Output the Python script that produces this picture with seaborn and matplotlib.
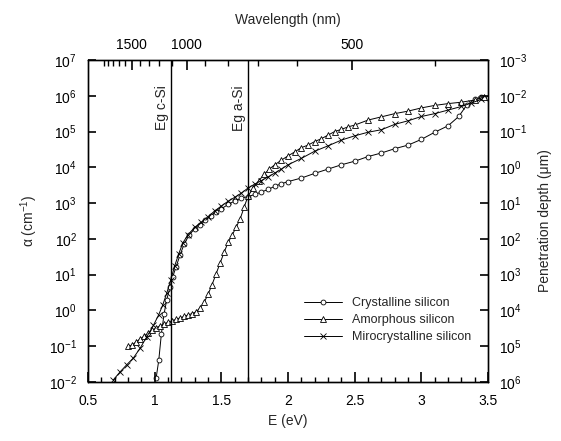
import numpy as np
import matplotlib
matplotlib.use("Agg")
import matplotlib.pyplot as plt
import matplotlib.ticker as mticker
import seaborn as sns

# photon energy (eV) and log10 of absorption coefficient (cm^-1)
c_si_E = [1.01, 1.03, 1.05, 1.07, 1.09, 1.115, 1.135, 1.16, 1.19, 1.22, 1.26, 1.30,
          1.34, 1.38, 1.42, 1.46, 1.50, 1.55, 1.60, 1.65, 1.70, 1.75, 1.80, 1.85,
          1.90, 1.95, 2.00, 2.10, 2.20, 2.30, 2.40, 2.50, 2.60, 2.70, 2.80, 2.90,
          3.00, 3.10, 3.20, 3.28, 3.34, 3.40, 3.45, 3.50]
c_si_log = [-1.9, -1.4, -0.65, -0.1, 0.3, 0.66, 0.94, 1.22, 1.55, 1.85, 2.12, 2.28,
            2.38, 2.52, 2.64, 2.75, 2.84, 2.96, 3.06, 3.14, 3.18, 3.24, 3.31, 3.38,
            3.47, 3.54, 3.60, 3.70, 3.83, 3.95, 4.07, 4.17, 4.30, 4.40, 4.52, 4.62,
            4.78, 4.98, 5.16, 5.42, 5.74, 5.90, 5.97, 5.95]

a_si_E = [0.80, 0.83, 0.86, 0.89, 0.92, 0.95, 0.98, 1.01, 1.04, 1.07, 1.10, 1.13,
          1.16, 1.19, 1.22, 1.25, 1.28, 1.31, 1.34, 1.37, 1.40, 1.43, 1.46, 1.49,
          1.52, 1.55, 1.58, 1.61, 1.64, 1.67, 1.70, 1.74, 1.78, 1.82, 1.86, 1.90,
          1.95, 2.00, 2.05, 2.10, 2.15, 2.20, 2.25, 2.30, 2.35, 2.40, 2.45, 2.50,
          2.60, 2.70, 2.80, 2.90, 3.00, 3.10, 3.20, 3.30, 3.40, 3.47]
a_si_log = [-1.0, -0.97, -0.88, -0.80, -0.72, -0.64, -0.56, -0.49, -0.43, -0.38, -0.33, -0.29,
            -0.25, -0.21, -0.17, -0.13, -0.09, -0.04, 0.07, 0.22, 0.45, 0.72, 1.02, 1.32,
            1.62, 1.90, 2.10, 2.32, 2.55, 2.88, 3.20, 3.42, 3.62, 3.80, 3.95, 4.07,
            4.20, 4.32, 4.43, 4.55, 4.62, 4.72, 4.80, 4.90, 5.00, 5.06, 5.13, 5.18,
            5.32, 5.41, 5.50, 5.57, 5.66, 5.73, 5.78, 5.82, 5.88, 5.97]

uc_si_E = [0.69, 0.74, 0.79, 0.84, 0.89, 0.94, 0.99, 1.03, 1.06, 1.09, 1.12, 1.15,
           1.18, 1.21, 1.25, 1.30, 1.35, 1.40, 1.45, 1.50, 1.55, 1.60, 1.65, 1.70,
           1.75, 1.80, 1.85, 1.90, 1.95, 2.00, 2.10, 2.20, 2.30, 2.40, 2.50, 2.60,
           2.70, 2.80, 2.90, 3.00, 3.10, 3.20, 3.30, 3.37, 3.45]
uc_si_log = [-1.94, -1.72, -1.52, -1.33, -1.06, -0.74, -0.42, -0.12, 0.15, 0.48, 0.85, 1.25,
             1.58, 1.88, 2.12, 2.32, 2.47, 2.62, 2.78, 2.92, 3.05, 3.16, 3.28, 3.42,
             3.53, 3.63, 3.73, 3.84, 3.95, 4.07, 4.25, 4.45, 4.60, 4.76, 4.88, 4.98,
             5.05, 5.20, 5.30, 5.42, 5.50, 5.60, 5.70, 5.79, 5.90]

eg_c_si = 1.12
eg_a_si = 1.70
wl_major = [500, 1000, 1500]
wl_minor = [400, 600, 700, 800, 900, 1100, 1200, 1300, 1400, 1600, 1700, 1800, 1900, 2000]

sns.set_style("ticks")
plt.rcParams["font.family"] = ["Liberation Sans", "DejaVu Sans"]
plt.rcParams["mathtext.fontset"] = "custom"
plt.rcParams["mathtext.rm"] = "Liberation Sans"
plt.rcParams["mathtext.it"] = "Liberation Sans:italic"
plt.rcParams["xtick.color"] = "black"
plt.rcParams["ytick.color"] = "black"
plt.rcParams["axes.axisbelow"] = False

fig = plt.figure(figsize=(5.61, 4.41), dpi=100)
ax = fig.add_axes([0.157, 0.134, 0.713, 0.730])

series = [
    (c_si_E, c_si_log, "o", 3.5, "Crystalline silicon"),
    (a_si_E, a_si_log, "^", 4.5, "Amorphous silicon"),
    (uc_si_E, uc_si_log, "x", 4, "Mirocrystalline silicon"),
]
for e, lg, mk, ms, lab in series:
    sns.lineplot(x=e, y=10 ** np.array(lg), ax=ax, color="black", lw=0.7,
                 marker=mk, markersize=ms, markerfacecolor="white",
                 markeredgecolor="black", markeredgewidth=0.6, label=lab)

ax.axvline(eg_c_si, color="black", lw=1)
ax.axvline(eg_a_si, color="black", lw=1)
ax.text(eg_c_si - 0.015, 2e6, "Eg c-Si", rotation=90, ha="right", va="top", fontsize=10)
ax.text(eg_a_si - 0.015, 2e6, "Eg a-Si", rotation=90, ha="right", va="top", fontsize=10)

ax.set_yscale("log")
ax.set_xlim(0.5, 3.5)
ax.set_ylim(1e-2, 1e7)
ax.yaxis.set_major_locator(mticker.LogLocator(base=10, numticks=20))
ax.yaxis.set_minor_locator(mticker.NullLocator())
ax.xaxis.set_major_locator(mticker.MultipleLocator(0.5))
ax.xaxis.set_minor_locator(mticker.MultipleLocator(0.1))
ax.xaxis.set_major_formatter(mticker.FuncFormatter(lambda v, p: f"{v:g}"))
ax.tick_params(axis="y", direction="in", labelsize=10, length=6, width=1.2, pad=8)
ax.tick_params(axis="x", direction="in", labelsize=10, length=7, width=1.2, pad=9)
ax.tick_params(axis="x", which="minor", direction="in", length=3.5, width=1.0)
ax.set_xlabel("E (eV)", fontsize=10, labelpad=4)
ax.set_ylabel("\u03b1 (cm$^{-1}$)", fontsize=10, labelpad=6)

ax.legend(loc="lower right", frameon=False, fontsize=9, handlelength=3,
          bbox_to_anchor=(0.985, 0.085), labelspacing=0.4)

# right axis: penetration depth in micrometres
ax2 = ax.twinx()
ax2.set_yscale("log")
ax2.set_ylim(1e6, 1e-3)
ax2.yaxis.set_major_locator(mticker.LogLocator(base=10, numticks=20))
ax2.yaxis.set_minor_locator(mticker.NullLocator())
ax2.tick_params(axis="y", direction="in", labelsize=10, length=6, width=1.2, pad=8)
ax2.set_ylabel("Penetration depth (\u03bcm)", fontsize=10, labelpad=8)

# top axis: wavelength (E = 1240 / lambda)
ax3 = ax.twiny()
ax3.set_xlim(ax.get_xlim())
ax3.xaxis.set_major_locator(mticker.FixedLocator([1240 / w for w in wl_major]))
ax3.xaxis.set_major_formatter(mticker.FixedFormatter([str(w) for w in wl_major]))
ax3.xaxis.set_minor_locator(mticker.FixedLocator([1240 / w for w in wl_minor]))
ax3.tick_params(axis="x", direction="in", labelsize=10, length=7, width=1.2, pad=6)
ax3.tick_params(axis="x", which="minor", direction="in", length=4.5, width=1.0)
ax3.set_xlabel("Wavelength (nm)", fontsize=10, labelpad=10)

for a in (ax, ax2, ax3):
    for s in a.spines.values():
        s.set_linewidth(0.9)
        s.set_color("black")

fig.savefig("out.png", dpi=100)
